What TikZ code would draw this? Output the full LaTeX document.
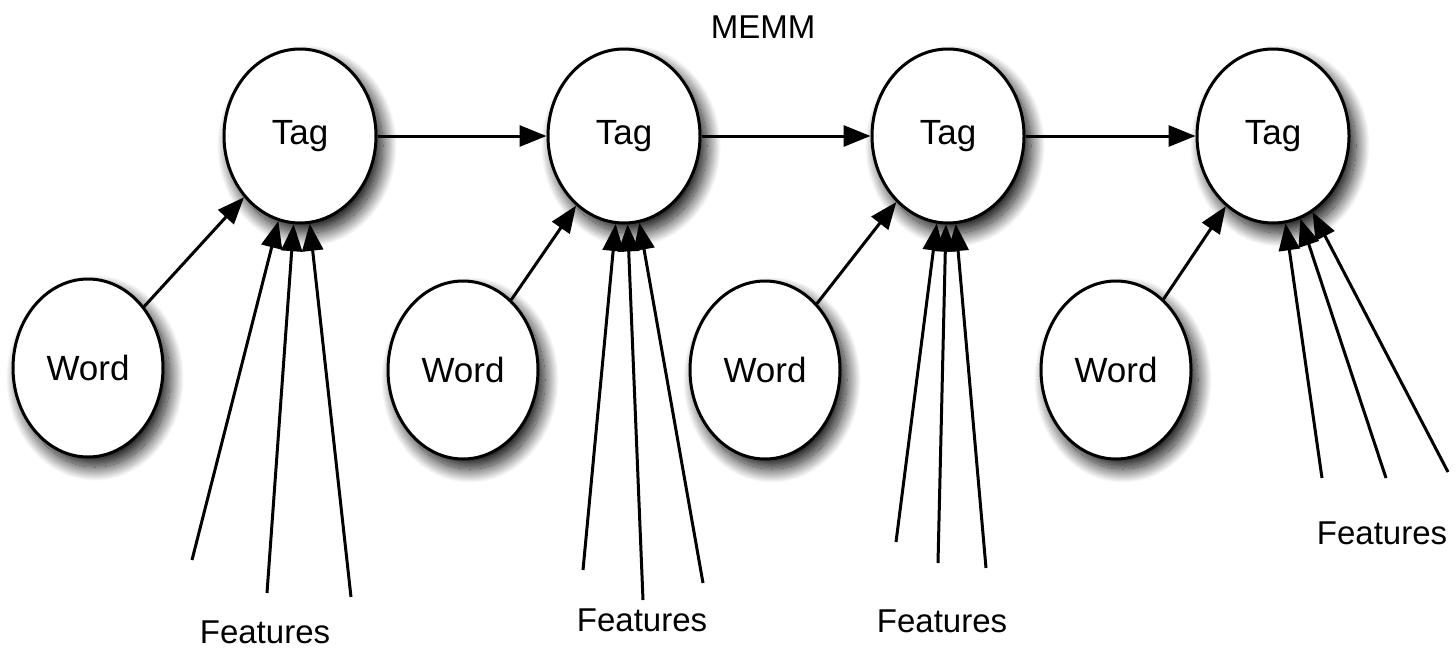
\documentclass[tikz,border=0pt]{standalone}
\usepackage{fontspec}
\setmainfont{Liberation Sans}
\usetikzlibrary{shapes.geometric,arrows.meta,shadows.blur}

\begin{document}
\begin{tikzpicture}
        [
            x = 1pt, y = -1pt,
            font = \fontsize{33pt}{38pt}\selectfont,
            state/.style = {ellipse, draw, line width = 3pt, fill = white, inner sep = 0pt,
                    font = \fontsize{35pt}{40pt}\selectfont,
                    blur shadow = {shadow xshift = 7pt, shadow yshift = -10pt, shadow blur radius = 14pt,
                            shadow blur steps = 30, shadow opacity = 95}},
            tagnode/.style = {state, minimum width = 152pt, minimum height = 174pt},
            wordnode/.style = {state, minimum width = 150pt, minimum height = 178pt},
            link/.style = {line width = 3pt, -{Triangle[length = 27pt, width = 21pt]}},
        ]

        \useasboundingbox (0,0) rectangle (1456,651);

        \node[] (title) at (763,27) {MEMM};

        \node[tagnode] (tag1) at (300,136) {Tag};
        \node[tagnode] (tag2) at (624,136) {Tag};
        \node[tagnode] (tag3) at (948,136) {Tag};
        \node[tagnode] (tag4) at (1273,136) {Tag};

        \node[wordnode] (word1) at (88,368) {Word};
        \node[wordnode] (word2) at (463,370) {Word};
        \node[wordnode] (word3) at (765,370) {Word};
        \node[wordnode] (word4) at (1116,370) {Word};

        \coordinate (f11) at (192,560);
        \coordinate (f12) at (267,593);
        \coordinate (f13) at (351,597);
        \coordinate (f21) at (583,570);
        \coordinate (f22) at (643,600);
        \coordinate (f23) at (703,583);
        \coordinate (f31) at (896,542);
        \coordinate (f32) at (938,563);
        \coordinate (f33) at (986,568);
        \coordinate (f41) at (1322,478);
        \coordinate (f42) at (1386,478);
        \coordinate (f43) at (1448,472);

        \node[] (feat1) at (265,632) {Features};
        \node[] (feat2) at (642,620) {Features};
        \node[] (feat3) at (942,621) {Features};
        \node[] (feat4) at (1382,533) {Features};

        \draw[link] (tag1) -- (tag2);
        \draw[link] (tag2) -- (tag3);
        \draw[link] (tag3) -- (tag4);

        \draw[link] (word1) -- (tag1);
        \draw[link] (word2) -- (tag2);
        \draw[link] (word3) -- (tag3);
        \draw[link] (word4) -- (tag4);

        \draw[link] (f11) -- (tag1);
        \draw[link] (f12) -- (tag1);
        \draw[link] (f13) -- (tag1);
        \draw[link] (f21) -- (tag2);
        \draw[link] (f22) -- (tag2);
        \draw[link] (f23) -- (tag2);
        \draw[link] (f31) -- (tag3);
        \draw[link] (f32) -- (tag3);
        \draw[link] (f33) -- (tag3);
        \draw[link] (f41) -- (tag4);
        \draw[link] (f42) -- (tag4);
        \draw[link] (f43) -- (tag4);

    \end{tikzpicture}
\end{document}
